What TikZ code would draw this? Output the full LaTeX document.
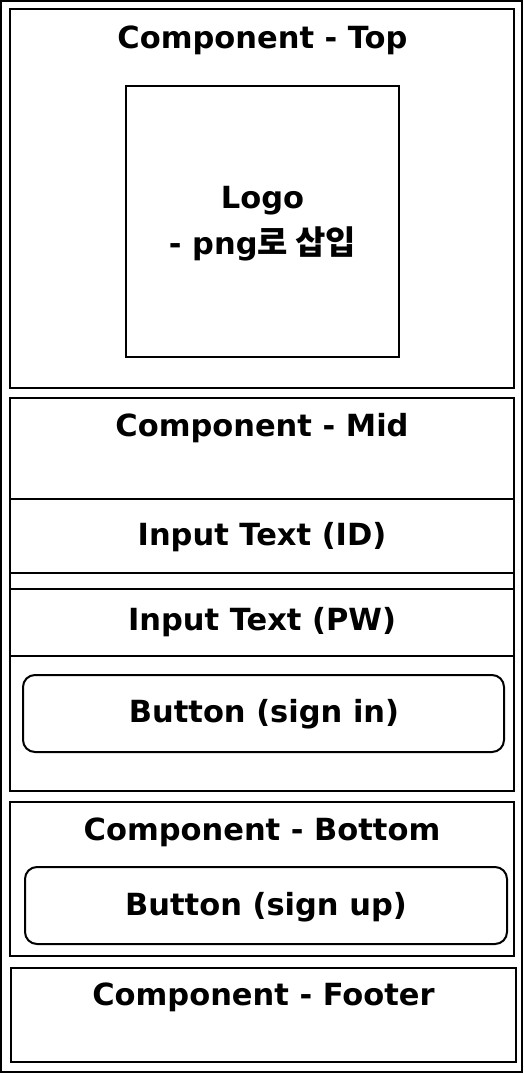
\documentclass[tikz,border=0pt]{standalone}
\usepackage{fontspec}
\setmainfont{DejaVu Sans}
\newfontfamily\kr{Noto Sans CJK KR}[Scale=1.08]
\begin{document}
\begin{tikzpicture}[x=1pt,y=-1pt,
  box/.style={draw,line width=2pt,inner sep=0pt,outer sep=0pt},
  rbox/.style={box,rounded corners=12pt},
  lbl/.style={font=\fontsize{30.5}{36}\selectfont\bfseries,inner sep=0pt,anchor=base}]
\useasboundingbox (0,0) rectangle (524,1074);
\node[box,minimum width=521pt,minimum height=1071pt] (outer) at (261.5,536.5) {};
\node[box,minimum width=504pt,minimum height=379pt] (top) at (262,198.5) {};
\node[box,minimum width=273pt,minimum height=271pt] (logo) at (262.5,221.5) {};
\node[box,minimum width=504pt,minimum height=393pt] (mid) at (262,594.5) {};
\node[box,minimum width=504pt,minimum height=74pt] (idbox) at (262,536) {};
\node[box,minimum width=504pt,minimum height=67pt] (pwbox) at (262,622.5) {};
\node[rbox,minimum width=481pt,minimum height=77pt] (signin) at (263.5,713.5) {};
\node[box,minimum width=504pt,minimum height=154pt] (bottom) at (262,879) {};
\node[rbox,minimum width=482pt,minimum height=77pt] (signup) at (266,905.5) {};
\node[box,minimum width=505pt,minimum height=94pt] (footer) at (263.5,1015) {};
\node[lbl] (ttop) at (262.5,48) {Component - Top};
\node[lbl] (tlogo1) at (262.5,208) {Logo};
\node[lbl] (tlogo2) at (262.5,254) {- png{\kr 로 삽입}};
\node[lbl] (tmid) at (262,436) {Component - Mid};
\node[lbl] (tid) at (262,545) {Input Text (ID)};
\node[lbl] (tpw) at (262,630) {Input Text (PW)};
\node[lbl] (tsignin) at (264,722) {Button (sign in)};
\node[lbl] (tbottom) at (262,840) {Component - Bottom};
\node[lbl] (tsignup) at (266,915) {Button (sign up)};
\node[lbl] (tfooter) at (263.5,1005) {Component - Footer};
\end{tikzpicture}
\end{document}
